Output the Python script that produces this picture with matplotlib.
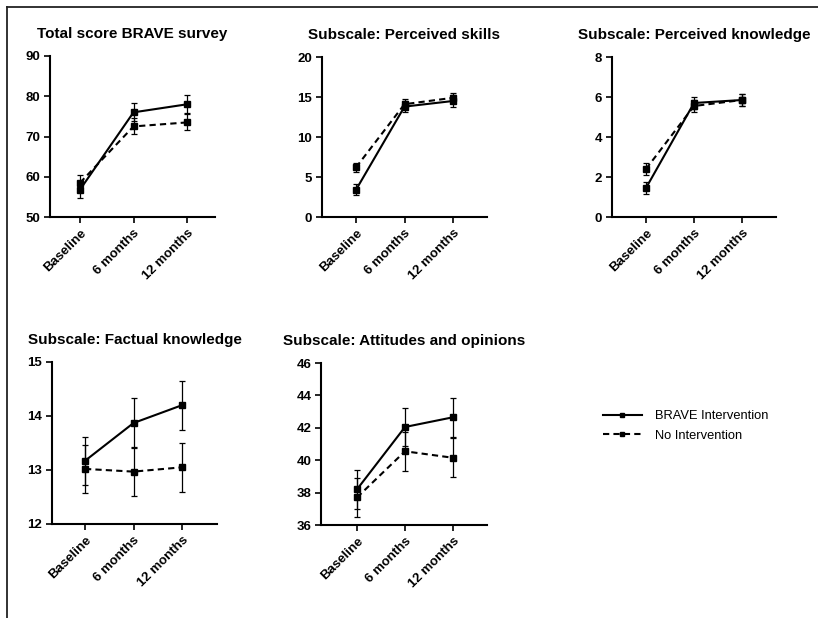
import matplotlib
matplotlib.use("Agg")
import matplotlib.pyplot as plt
from matplotlib.lines import Line2D

plt.rcParams["font.family"] = ["Liberation Sans", "DejaVu Sans"]

timepoints = ["Baseline", "6 months", "12 months"]

titles = [
    "Total score BRAVE survey",
    "Subscale: Perceived skills",
    "Subscale: Perceived knowledge",
    "Subscale: Factual knowledge",
    "Subscale: Attitudes and opinions",
]

brave_mean = [
    [56.8, 76.0, 78.0],
    [3.4, 13.8, 14.5],
    [1.45, 5.7, 5.85],
    [13.17, 13.87, 14.2],
    [38.2, 42.05, 42.65],
]
brave_err = [
    [2.2, 2.2, 2.2],
    [0.7, 0.7, 0.7],
    [0.3, 0.3, 0.3],
    [0.45, 0.46, 0.45],
    [1.2, 1.2, 1.2],
]
none_mean = [
    [58.5, 72.5, 73.5],
    [6.2, 14.1, 14.9],
    [2.4, 5.55, 5.85],
    [13.02, 12.97, 13.05],
    [37.7, 40.55, 40.15],
]
none_err = [
    [2.0, 2.0, 2.0],
    [0.6, 0.6, 0.6],
    [0.3, 0.3, 0.3],
    [0.45, 0.45, 0.45],
    [1.2, 1.2, 1.2],
]

y_ranges = [(50, 90), (0, 20), (0, 8), (12, 15), (36, 46)]
y_ticks = [
    [50, 60, 70, 80, 90],
    [0, 5, 10, 15, 20],
    [0, 2, 4, 6, 8],
    [12, 13, 14, 15],
    [36, 38, 40, 42, 44, 46],
]

legend_labels = ["BRAVE Intervention", "No Intervention"]

W, H = 818, 618
# panel boxes in pixels: left, top, right, bottom, first tick x, tick spacing
boxes = [
    (50, 56, 215, 217, 80, 53.5),
    (322, 57, 487, 217, 356, 48.5),
    (612, 57, 776, 217, 646, 48),
    (52, 362, 217, 524, 85, 48.5),
    (321, 363, 487, 525, 357, 48),
]

fig = plt.figure(figsize=(W / 100, H / 100), dpi=100)

# border lines on top and left
fig.add_artist(Line2D([7 / W, 7 / W], [0, 1 - 7 / H], transform=fig.transFigure, color="#222222", lw=1.3))
fig.add_artist(Line2D([7 / W, 1], [1 - 7 / H, 1 - 7 / H], transform=fig.transFigure, color="#222222", lw=1.3))

dash = (0, (3, 2))
xs = list(range(len(timepoints)))
for i, (l, t, r, b, x0, dx) in enumerate(boxes):
    ax = fig.add_axes([l / W, 1 - b / H, (r - l) / W, (b - t) / H])
    ax.errorbar(xs, brave_mean[i], yerr=brave_err[i], color="black", lw=1.5, marker="s",
                ms=4.5, capsize=2, elinewidth=0.9, capthick=0.9)
    ax.errorbar(xs, none_mean[i], yerr=none_err[i], color="black", lw=1.5, ls=dash,
                marker="s", ms=4.5, capsize=2, elinewidth=0.9, capthick=0.9)
    ax.set_xlim(-(x0 - l) / dx, 2 + (r - x0 - 2 * dx) / dx)
    ax.set_ylim(*y_ranges[i])
    ax.set_yticks(y_ticks[i])
    ax.set_xticks(xs)
    ax.set_xticklabels(timepoints, rotation=45, ha="right", rotation_mode="anchor")
    for s in ["top", "right"]:
        ax.spines[s].set_visible(False)
    for s in ["left", "bottom"]:
        ax.spines[s].set_linewidth(1.5)
    ax.tick_params(width=1.2, length=4, labelsize=9.5, pad=3)
    for lab in ax.get_xticklabels() + ax.get_yticklabels():
        lab.set_fontweight("bold")
    ax.set_title(titles[i], fontsize=11, fontweight="bold", pad=13)

handles = [
    Line2D([], [], color="black", lw=1.5, marker="s", ms=3.5),
    Line2D([], [], color="black", lw=1.5, ls=dash, marker="s", ms=3.5),
]
fig.legend(handles, legend_labels, loc="center left", bbox_to_anchor=(603 / W, 1 - 426 / H),
           frameon=False, fontsize=9.3, handlelength=3, handletextpad=1.0, labelspacing=0.6,
           borderpad=0, borderaxespad=0)

fig.savefig("out.png", dpi=100)
